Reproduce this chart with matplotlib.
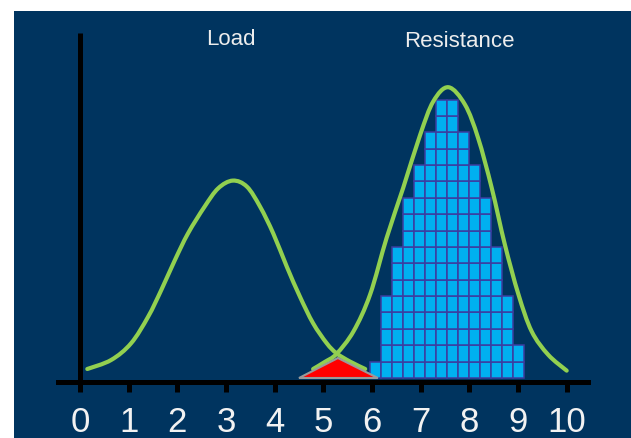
import matplotlib
matplotlib.use("Agg")
import matplotlib.pyplot as plt
from matplotlib.patches import Rectangle, Polygon, PathPatch
from matplotlib.path import Path

plt.rcParams['font.family'] = ['Liberation Sans', 'DejaVu Sans']

# ---- data ----
tick_values = [0, 1, 2, 3, 4, 5, 6, 7, 8, 9, 10]
tick_labels = ["0", "1", "2", "3", "4", "5", "6", "7", "8", "9", "10"]

load_x = [0.15, 0.64, 1.05, 1.40, 1.67, 1.95, 2.22, 2.56, 2.84, 3.14,
          3.43, 3.70, 3.97, 4.25, 4.52, 4.79, 5.07, 5.27, 5.55, 5.86]
load_y = [0.55, 1.10, 2.12, 3.74, 5.37, 7.20, 8.83, 10.46, 11.58, 12.05,
          11.68, 10.46, 8.83, 6.79, 4.96, 3.34, 2.12, 1.51, 1.00, 0.55]

res_x = [4.79, 5.03, 5.27, 5.62, 5.96, 6.30, 6.64, 6.99, 7.26, 7.57,
         7.91, 8.18, 8.46, 8.73, 9.01, 9.28, 9.62, 10.0]
res_y = [0.55, 0.98, 1.47, 2.85, 5.09, 8.55, 11.60, 14.85, 16.89, 17.75,
         16.69, 14.65, 11.60, 8.14, 5.09, 2.85, 1.42, 0.45]

hist_counts = [1, 5, 8, 11, 13, 15, 17, 17, 15, 13, 11, 8, 5, 2]
hist_start = 5.96
hist_width = 0.2257

overlap_x = [4.50, 5.30, 6.12]
overlap_y = [0.0, 1.22, 0.0]

labels = ["Load", "Resistance"]
label_x = [3.10, 7.79]
label_y = [20.35, 20.2]


def smooth_path(xs, ys):
    """Smooth curve through the read points (Catmull-Rom drawn as Bezier)."""
    pts = list(zip(xs, ys))
    n = len(pts)
    verts = [pts[0]]
    codes = [Path.MOVETO]
    for i in range(n - 1):
        p0 = pts[i - 1] if i > 0 else pts[i]
        p1 = pts[i]
        p2 = pts[i + 1]
        p3 = pts[i + 2] if i + 2 < n else pts[i + 1]
        c1 = (p1[0] + (p2[0] - p0[0]) / 6, p1[1] + (p2[1] - p0[1]) / 6)
        c2 = (p2[0] - (p3[0] - p1[0]) / 6, p2[1] - (p3[1] - p1[1]) / 6)
        verts += [c1, c2, p2]
        codes += [Path.CURVE4] * 3
    return Path(verts, codes)


# ---- figure ----
W, H = 631, 438
fig = plt.figure(figsize=(W / 100, H / 100), dpi=100)
fig.patch.set_facecolor("white")
navy = "#00345F"
fig.patches.append(Rectangle((14 / W, 0), (W - 14) / W, (H - 11) / H,
                             transform=fig.transFigure, facecolor=navy,
                             edgecolor="none", zorder=-10))

ax = fig.add_axes([58 / W, 56 / H, 530 / W, 349 / H])
ax.set_facecolor("none")
ax.set_xlim(-0.452, 10.438)
ax.set_ylim(-0.244, 21.06)

for s in ["top", "right", "left"]:
    ax.spines[s].set_visible(False)
ax.spines["bottom"].set_linewidth(3.6)
ax.spines["bottom"].set_color("black")
ax.spines["bottom"].set_zorder(6)

ax.set_xticks(tick_values)
ax.set_xticklabels(tick_labels)
ax.set_yticks([])
ax.tick_params(axis="x", direction="out", length=7.2, width=3.6,
               color="black", pad=10, labelsize=25, labelcolor="#F2F2F2")

# vertical axis
ax.plot([0, 0], [-0.244, 21.06], color="black", lw=3.6,
        solid_capstyle="butt", clip_on=False, zorder=6)

# histogram bricks
for i, c in enumerate(hist_counts):
    x0 = hist_start + i * hist_width
    for r in range(c):
        ax.add_patch(Rectangle((x0, r), hist_width, 1, facecolor="#00B0F0",
                               edgecolor="#3C3CA0", linewidth=1.1, zorder=2))

# curves
for xs, ys in [(load_x, load_y), (res_x, res_y)]:
    ax.add_patch(PathPatch(smooth_path(xs, ys), facecolor="none",
                           edgecolor="#92D050", lw=3.0, zorder=3,
                           capstyle="round", joinstyle="round"))

# overlap triangle
ax.add_patch(Polygon(list(zip(overlap_x, overlap_y)), closed=True,
                     facecolor="#FF0000", edgecolor="#9A9A9A",
                     linewidth=1.5, zorder=4))

for t, x, y in zip(labels, label_x, label_y):
    ax.text(x, y, t, ha="center", va="baseline", fontsize=16,
            color="#EDEDED", zorder=7)

fig.savefig("out.png", dpi=100, facecolor=fig.get_facecolor())
